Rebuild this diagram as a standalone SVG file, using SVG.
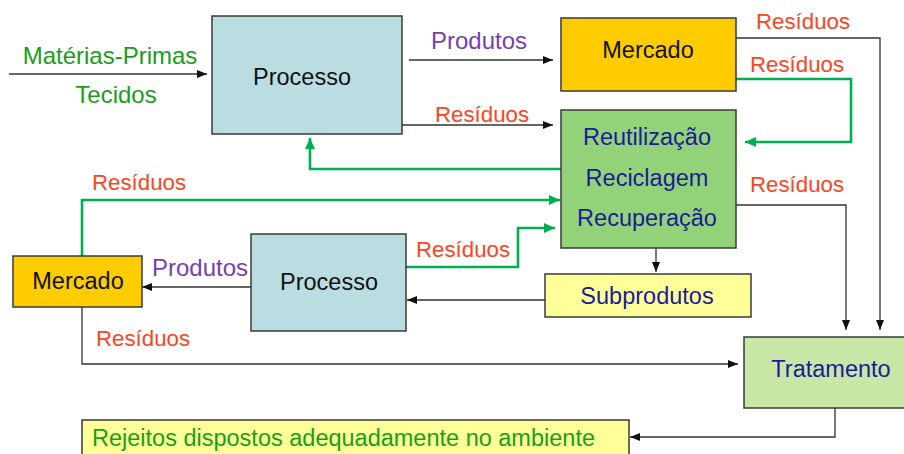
<svg xmlns="http://www.w3.org/2000/svg" width="904" height="454" viewBox="0 0 904 454">
<defs>
<style>
.box{stroke:#3a3a3a;stroke-width:1.5}
.t{font-family:"Liberation Sans",Arial,sans-serif;font-size:23.5px;text-anchor:middle}
.k{fill:#111}
.b{fill:#1c1c96}
.g{fill:#1a9e1a}
.r{fill:#ff4422;font-size:22.3px}
.p{fill:#7a3db0;font-size:24px}
.ln{fill:none;stroke:#333;stroke-width:1.3}
.gl{fill:none;stroke:#00b050;stroke-width:2.6}
</style>
<marker id="ak" markerUnits="userSpaceOnUse" markerWidth="10" markerHeight="8" refX="10" refY="4" orient="auto"><path d="M0,0 L10,4 L0,8 z" fill="#111"/></marker>
<marker id="ag" markerUnits="userSpaceOnUse" markerWidth="11" markerHeight="10" refX="11" refY="5" orient="auto"><path d="M0,0 L11,5 L0,10 z" fill="#00b050"/></marker>
</defs>
<rect width="904" height="454" fill="#fff"/>
<g id="connectors">
<path class="ln" d="M9,74 H207" marker-end="url(#ak)"/>
<path class="ln" d="M409,60 H553" marker-end="url(#ak)"/>
<path class="ln" d="M402,125 H553" marker-end="url(#ak)"/>
<path class="ln" d="M736,38 H880 V330" marker-end="url(#ak)"/>
<path class="gl" d="M736,79 H851 V142 H745" marker-end="url(#ag)"/>
<path class="gl" d="M561,169 H310 V138" marker-end="url(#ag)"/>
<path class="gl" d="M82,256 V200 H560" marker-end="url(#ag)"/>
<path class="gl" d="M406,267 H518 V228 H555" marker-end="url(#ag)"/>
<path class="ln" d="M251,287 H142" marker-end="url(#ak)"/>
<path class="ln" d="M656,248 V272" marker-end="url(#ak)"/>
<path class="ln" d="M545,300 H407" marker-end="url(#ak)"/>
<path class="ln" d="M736,205 H846 V330" marker-end="url(#ak)"/>
<path class="ln" d="M82,307 V364 H738" marker-end="url(#ak)"/>
<path class="ln" d="M835,408 V437 H630" marker-end="url(#ak)"/>
</g>
<g id="labels">
<text class="t g" x="110" y="64" style="font-size:24px">Matérias-Primas</text>
<text class="t g" x="116" y="103" style="font-size:24px">Tecidos</text>
<text class="t p" x="479" y="49">Produtos</text>
<text class="t r" x="803" y="29">Resíduos</text>
<text class="t r" x="797" y="72">Resíduos</text>
<text class="t r" x="482" y="122">Resíduos</text>
<text class="t r" x="139" y="190">Resíduos</text>
<text class="t r" x="797" y="192">Resíduos</text>
<text class="t r" x="463" y="257">Resíduos</text>
<text class="t p" x="200" y="276">Produtos</text>
<text class="t r" x="143" y="346">Resíduos</text>
</g>
<g id="processo1">
<rect class="box" x="212" y="16" width="190" height="118" fill="#badde2"/>
<text class="t k" x="302" y="85">Processo</text>
</g>
<g id="mercado1">
<rect class="box" x="561" y="18" width="175" height="73" fill="#ffcc00"/>
<text class="t k" x="648" y="58">Mercado</text>
</g>
<g id="reutilizacao">
<rect class="box" x="561" y="110" width="175" height="138" fill="#92d379"/>
<text class="t b" x="647" y="145">Reutilização</text>
<text class="t b" x="647" y="186">Reciclagem</text>
<text class="t b" x="647" y="226">Recuperação</text>
</g>
<g id="processo2">
<rect class="box" x="251" y="234" width="155" height="97" fill="#badde2"/>
<text class="t k" x="329" y="290">Processo</text>
</g>
<g id="mercado2">
<rect class="box" x="13" y="256" width="129" height="51" fill="#ffcc00"/>
<text class="t k" x="78" y="289">Mercado</text>
</g>
<g id="subprodutos">
<rect class="box" x="545" y="274" width="206" height="43" fill="#ffff99"/>
<text class="t b" x="647" y="304">Subprodutos</text>
</g>
<g id="tratamento">
<rect class="box" x="744" y="337" width="165" height="71" fill="#c8e6a6"/>
<text class="t b" x="831" y="377">Tratamento</text>
</g>
<g id="rejeitos">
<rect class="box" x="82" y="420" width="547" height="40" fill="#ffff99"/>
<text class="t g" x="92" y="446" style="text-anchor:start">Rejeitos dispostos adequadamente no ambiente</text>
</g>
</svg>
